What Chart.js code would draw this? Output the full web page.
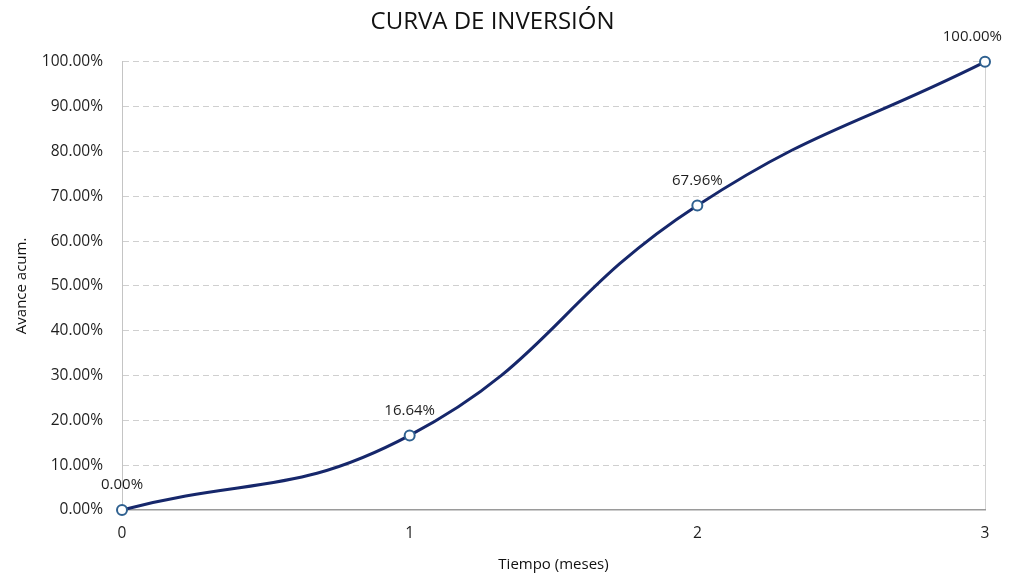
<!DOCTYPE html>
<html>
<head>
<meta charset="utf-8">
<script src="https://cdn.jsdelivr.net/npm/chart.js@4/dist/chart.umd.min.js"></script>
<style>
  html, body { margin: 0; padding: 0; background: #ffffff; }
  #wrap { width: 1016px; height: 575px; }
</style>
</head>
<body>
<div id="wrap"><canvas id="c" width="1016" height="575"></canvas></div>
<script>
const months = [0, 1, 2, 3];
const avance = [0.00, 16.64, 67.96, 100.00];
const titleText = 'CURVA DE INVERSIÓN';
const xTitle = 'Tiempo (meses)';
const yTitle = 'Avance acum.';

const FONT = "'Open Sans', 'DejaVu Sans', sans-serif";

const pointLabels = {
  id: 'pointLabels',
  afterDatasetsDraw(chart) {
    const ctx = chart.ctx;
    const meta = chart.getDatasetMeta(0);
    ctx.save();
    ctx.font = '15px ' + FONT;
    ctx.fillStyle = '#1e1e1e';
    ctx.textAlign = 'center';
    ctx.textBaseline = 'middle';
    meta.data.forEach((pt, i) => {
      const txt = avance[i].toFixed(2) + '%';
      const w = ctx.measureText(txt).width;
      let x = Math.min(pt.x, chart.width - 14 - w / 2);
      ctx.fillText(txt, x, pt.y - 25);
    });
    ctx.restore();
  }
};

new Chart(document.getElementById('c'), {
  type: 'line',
  data: {
    datasets: [{
      data: months.map((m, i) => ({ x: m, y: avance[i] })),
      borderColor: '#16276b',
      borderWidth: 3,
      tension: 0.45,
      pointRadius: 5,
      pointBorderWidth: 2,
      pointBorderColor: '#2f6190',
      pointBackgroundColor: '#ffffff',
      fill: false,
      clip: false
    }]
  },
  options: {
    responsive: false,
    animation: false,
    devicePixelRatio: 1,
    layout: { padding: { top: 0, right: 31, bottom: 0, left: 0 } },
    plugins: {
      legend: { display: false },
      tooltip: { enabled: false },
      title: {
        display: true,
        text: titleText,
        color: '#111111',
        font: { family: FONT, size: 24, weight: 'normal' },
        padding: { top: 8, bottom: 25 }
      }
    },
    scales: {
      x: {
        type: 'linear',
        min: 0,
        max: 3,
        afterFit(scale) { scale.height = 65; },
        ticks: {
          stepSize: 1,
          color: '#1e1e1e',
          padding: 14,
          font: { family: FONT, size: 15.5 },
          callback: v => String(v)
        },
        grid: {
          drawTicks: false,
          color: ctx => (ctx.tick && ctx.tick.value === 3) ? '#d2d2d2' : 'rgba(0,0,0,0)',
          lineWidth: 1
        },
        border: { display: true, color: '#9a9a9a', width: 1.5 },
        title: {
          display: true,
          text: xTitle,
          color: '#111111',
          font: { family: FONT, size: 15 },
          padding: { top: 0, bottom: 1 }
        }
      },
      y: {
        min: 0,
        max: 100,
        afterFit(scale) { scale.width = 122; },
        ticks: {
          stepSize: 10,
          color: '#1e1e1e',
          padding: 19,
          font: { family: FONT, size: 15.5 },
          callback: v => Number(v).toFixed(2) + '%'
        },
        grid: {
          drawTicks: false,
          color: ctx => (ctx.tick && ctx.tick.value === 0) ? 'rgba(0,0,0,0)' : '#cfcfcf',
          lineWidth: 1
        },
        border: { display: true, color: '#c4c4c4', width: 1, dash: [6, 4] },
        title: {
          display: true,
          text: yTitle,
          color: '#111111',
          font: { family: FONT, size: 15 },
          padding: { top: 13, bottom: 0 }
        }
      }
    }
  },
  plugins: [pointLabels]
});
</script>
</body>
</html>
